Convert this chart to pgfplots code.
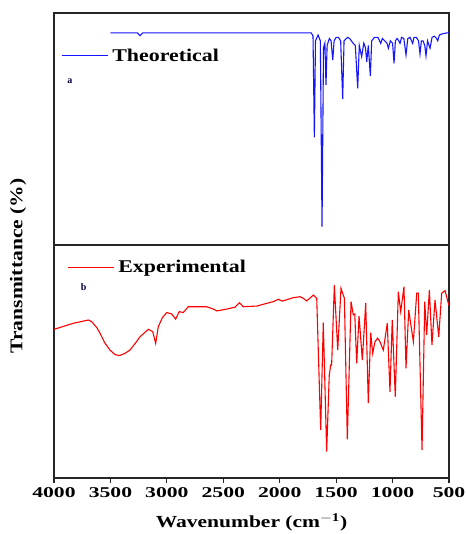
\documentclass[border=0pt]{standalone}
\usepackage{pgfplots}
\pgfplotsset{compat=1.18}
\usepackage{fontspec}
\setmainfont{Liberation Serif}
\definecolor{specblue}{RGB}{20,20,255}
\begin{document}
\begin{tikzpicture}[x=1bp,y=1bp]
\path[use as bounding box] (0,0) rectangle (466,534);
\pgfplotsset{
  every axis/.append style={
    scale only axis, width=395bp, x dir=reverse, xmin=500, xmax=4000,
    ymin=0, ymax=100, ytick=\empty, axis line style={line width=1.2pt, black!85},
    clip=true,
    legend cell align=left,
    legend style={draw=none, fill=none, font=\bfseries\fontsize{18}{18}\selectfont, anchor=west,
      inner sep=0pt, /tikz/every even column/.append style={column sep=0pt}},
  },
}
% top panel
\begin{axis}[at={(54bp,289bp)}, anchor=south west, height=232bp,
  xtick=\empty,
  legend style={at={(rel axis cs:0.018,0.815)}}]
\addplot[specblue, line width=1.1pt, forget plot] coordinates {
(3500,91.4)(3260,91.4)(3238,90.2)(3215,91.4)(1720,91.4)(1705,90)(1693,46.4)(1683,88)
(1660,90.5)(1640,88)(1625,7.9)(1612,85)(1600,87)(1590,69)(1580,86)(1560,89)(1545,88)
(1530,79.7)(1518,88)(1500,89.5)(1480,89.5)(1460,88)(1442,62.9)(1430,88)(1400,89.5)
(1380,89)(1350,87)(1330,86)(1309,67.5)(1295,86)(1274,81.2)(1255,87)(1240,85)(1229,79)
(1215,86)(1197,72.8)(1185,88)(1160,89.5)(1130,89.5)(1105,86.9)(1090,89)(1070,88)
(1050,87)(1037,84.8)(1020,88)(1000,87)(987,78.3)(975,88)(960,89)(945,88)(934,86.9)
(920,89.5)(900,89)(881,81.9)(865,89)(845,89.5)(822,86.9)(810,89.5)(790,89.5)(770,88)
(757,82.3)(745,88)(730,88)(715,86)(704,81.5)(690,88)(668,84.8)(650,89.5)(630,90)
(610,89)(600,88)(585,90.5)(560,91)(520,91.4)(500,91.4)
};
\addlegendimage{legend image code/.code={\draw[specblue, line width=1.1pt] (0bp,0bp) -- (46bp,0bp);}}
\addlegendentry{\kern2bp\scalebox{1.22}[1]{Theoretical}}
\node[font=\bfseries\fontsize{10}{10}\selectfont, text=black!75!blue] at (rel axis cs:0.04,0.705) {a};
\end{axis}
% bottom panel
\begin{axis}[at={(54bp,56bp)}, anchor=south west, height=233bp,
  xtick={4000,3500,...,500}, tick pos=lower, tick align=outside,
  major tick length=5bp, tick style={line width=1.2pt, black!85},
  xticklabel style={font=\bfseries\fontsize{15}{15}\selectfont, xscale=1.45, yshift=-1bp},
  /pgf/number format/assume math mode=true,
  /pgf/number format/1000 sep={},
  xlabel={\scalebox{1.27}[1]{Wavenumber (cm$^{\mathbf{-1}}$)}},
  xlabel style={font=\bfseries\fontsize{17}{17}\selectfont, yshift=-9bp},
  legend style={at={(rel axis cs:0.033,0.905)}}]
\addplot[red, line width=1.1pt, forget plot] coordinates {
(4000,63.8)(3829,66.4)(3696,67.8)(3666,67.1)(3620,64.5)(3592,62.1)(3550,58)(3504,54.9)(3460,53)(3421,52.5)(3370,53.5)(3327,54.9)
(3280,57.8)(3238,60.6)(3164,63.8)(3125,62.8)(3099,57.8)(3076,64.9)(3040,68.8)(3001,71)(2957,70.4)(2922,68.2)
(2890,71.4)(2855,71)(2810,73.5)(2647,73.5)(2588,72.5)(2558,71.7)(2470,72.5)(2396,73.3)
(2358,75.2)(2323,73.5)(2204,73.8)(2057,75.7)(2012,76.7)(1978,75.9)(1880,77.4)(1820,77.8)
(1791,77.1)(1761,76)(1702,78.5)(1672,77.1)(1637,20.6)(1614,66.7)(1584,11.3)(1561,44.2)
(1548,48.5)(1540,48.5)(1516,82.8)(1486,54.9)(1457,81.4)(1427,77.1)(1401,16.6)(1368,75.7)
(1348,70)(1335,70.4)(1318,49.2)(1297,69.5)(1268,50.6)(1238,75)(1215,32.1)(1194,62.4)
(1176,53.5)(1156,58.5)(1132,60)(1112,58.5)(1082,54.9)(1047,66.4)(1023,37)(1003,67.8)
(976,34.9)(949,80)(928,71.4)(899,82.1)(881,47.1)(857,72.1)(816,58.5)(786,79.3)(772,79.3)
(739,12)(715,75.7)(698,61.4)(674,80.7)(651,57.1)(624,76.4)(591,60.6)(565,79.3)(535,80.4)(506,75)(500,74)
};
\addlegendimage{legend image code/.code={\draw[red, line width=1.1pt] (0bp,0bp) -- (46bp,0bp);}}
\addlegendentry{\kern2bp\scalebox{1.22}[1]{Experimental}}
\node[font=\bfseries\fontsize{10}{10}\selectfont, text=black!75!blue] at (rel axis cs:0.075,0.82) {b};
\end{axis}
\node[rotate=90, font=\bfseries\fontsize{18}{18}\selectfont] at (18,268) {\scalebox{1.2}[1]{Transmittance (\%)}};
\end{tikzpicture}
\end{document}
